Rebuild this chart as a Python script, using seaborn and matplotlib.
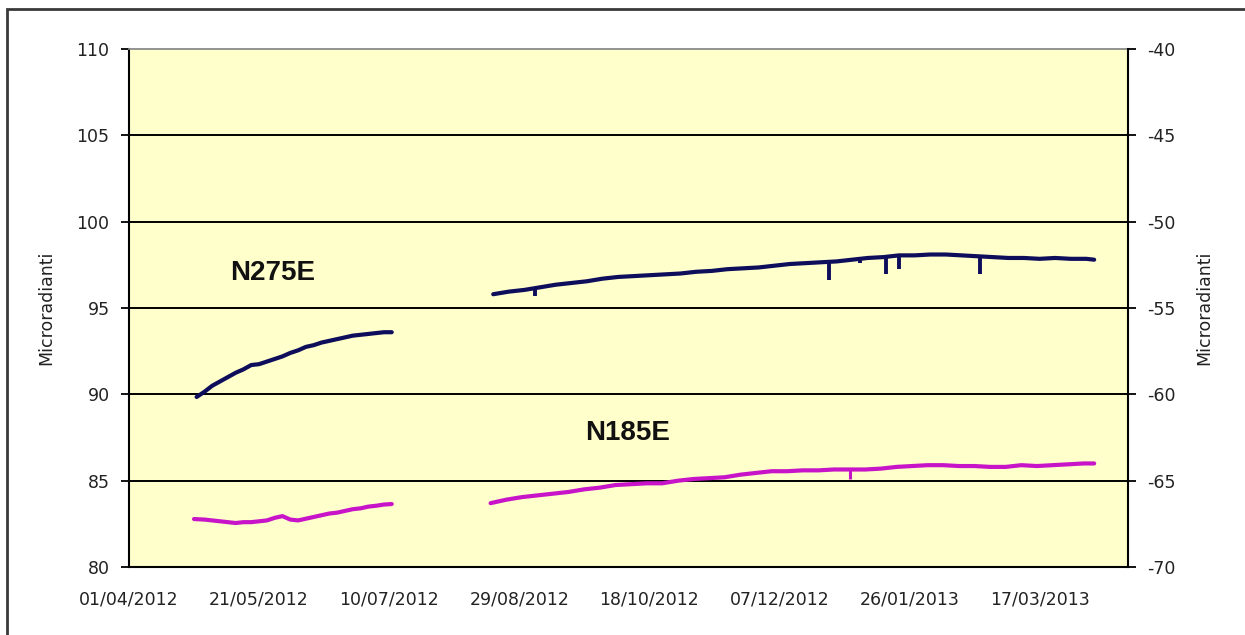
import matplotlib
matplotlib.use("Agg")
import pandas as pd
import seaborn as sns
import matplotlib.pyplot as plt
import matplotlib.dates as mdates
from matplotlib.patches import Rectangle

# ---- N275E (left axis, microradians) ----
n275e_dates_1 = [
    "2012-04-27", "2012-04-30", "2012-05-03", "2012-05-06", "2012-05-09", "2012-05-12",
    "2012-05-15", "2012-05-18", "2012-05-21", "2012-05-24", "2012-05-27", "2012-05-30",
    "2012-06-02", "2012-06-05", "2012-06-08", "2012-06-11", "2012-06-14", "2012-06-17",
    "2012-06-20", "2012-06-23", "2012-06-26", "2012-06-29", "2012-07-02", "2012-07-05",
    "2012-07-08", "2012-07-11",
]
n275e_values_1 = [
    89.85, 90.15, 90.50, 90.75, 91.00, 91.25,
    91.45, 91.70, 91.75, 91.90, 92.05, 92.20,
    92.40, 92.55, 92.75, 92.85, 93.00, 93.10,
    93.20, 93.30, 93.40, 93.45, 93.50, 93.55,
    93.60, 93.60,
]
n275e_dates_2 = [
    "2012-08-19", "2012-08-25", "2012-08-31", "2012-09-06", "2012-09-12", "2012-09-18",
    "2012-09-24", "2012-09-30", "2012-10-06", "2012-10-12", "2012-10-18", "2012-10-24",
    "2012-10-30", "2012-11-05", "2012-11-11", "2012-11-17", "2012-11-23", "2012-11-29",
    "2012-12-05", "2012-12-11", "2012-12-17", "2012-12-23", "2012-12-29", "2013-01-04",
    "2013-01-10", "2013-01-16", "2013-01-22", "2013-01-28", "2013-02-03", "2013-02-09",
    "2013-02-15", "2013-02-21", "2013-02-27", "2013-03-05", "2013-03-11", "2013-03-17",
    "2013-03-23", "2013-03-29", "2013-04-04", "2013-04-07",
]
n275e_values_2 = [
    95.80, 95.95, 96.05, 96.20, 96.35, 96.45,
    96.55, 96.70, 96.80, 96.85, 96.90, 96.95,
    97.00, 97.10, 97.15, 97.25, 97.30, 97.35,
    97.45, 97.55, 97.60, 97.65, 97.70, 97.80,
    97.90, 97.95, 98.05, 98.05, 98.10, 98.10,
    98.05, 98.00, 97.95, 97.90, 97.90, 97.85,
    97.90, 97.85, 97.85, 97.80,
]
# short downward glitches in the N275E record
n275e_spike_dates = ["2012-09-04", "2012-12-26", "2013-01-07", "2013-01-17", "2013-01-22", "2013-02-22"]
n275e_spike_tops = [96.20, 97.65, 97.90, 98.05, 98.05, 98.05]
n275e_spike_lows = [95.70, 96.60, 97.60, 97.00, 97.25, 96.95]

# ---- N185E (right axis, microradians) ----
n185e_dates_1 = [
    "2012-04-26", "2012-04-30", "2012-05-03", "2012-05-06", "2012-05-09", "2012-05-12",
    "2012-05-15", "2012-05-18", "2012-05-21", "2012-05-24", "2012-05-27", "2012-05-30",
    "2012-06-02", "2012-06-05", "2012-06-08", "2012-06-11", "2012-06-14", "2012-06-17",
    "2012-06-20", "2012-06-23", "2012-06-26", "2012-06-29", "2012-07-02", "2012-07-05",
    "2012-07-08", "2012-07-11",
]
n185e_values_1 = [
    -67.22, -67.25, -67.30, -67.35, -67.40, -67.45,
    -67.40, -67.40, -67.35, -67.30, -67.15, -67.05,
    -67.25, -67.30, -67.20, -67.10, -67.00, -66.90,
    -66.85, -66.75, -66.65, -66.60, -66.50, -66.45,
    -66.38, -66.35,
]
n185e_dates_2 = [
    "2012-08-18", "2012-08-24", "2012-08-30", "2012-09-05", "2012-09-11", "2012-09-17",
    "2012-09-23", "2012-09-29", "2012-10-05", "2012-10-11", "2012-10-17", "2012-10-23",
    "2012-10-29", "2012-11-04", "2012-11-10", "2012-11-16", "2012-11-22", "2012-11-28",
    "2012-12-04", "2012-12-10", "2012-12-16", "2012-12-22", "2012-12-28", "2013-01-03",
    "2013-01-09", "2013-01-15", "2013-01-21", "2013-01-27", "2013-02-02", "2013-02-08",
    "2013-02-14", "2013-02-20", "2013-02-26", "2013-03-04", "2013-03-10", "2013-03-16",
    "2013-03-22", "2013-03-28", "2013-04-03", "2013-04-07",
]
n185e_values_2 = [
    -66.30, -66.10, -65.95, -65.85, -65.75, -65.65,
    -65.50, -65.40, -65.25, -65.20, -65.15, -65.15,
    -65.00, -64.90, -64.85, -64.80, -64.65, -64.55,
    -64.45, -64.45, -64.40, -64.40, -64.35, -64.35,
    -64.35, -64.30, -64.20, -64.15, -64.10, -64.10,
    -64.15, -64.15, -64.20, -64.20, -64.10, -64.15,
    -64.10, -64.05, -64.00, -64.00,
]
n185e_spike_dates = ["2013-01-03"]
n185e_spike_tops = [-64.35]
n185e_spike_lows = [-64.90]

# axis settings
x_start, x_end = "2012-04-01", "2013-04-20"
left_ticks = [80, 85, 90, 95, 100, 105, 110]
right_ticks = [-70, -65, -60, -55, -50, -45, -40]

NAVY = "#0d0d5c"
MAGENTA = "#c814c8"
PLOT_BG = "#ffffcc"


def to_frame(dates_1, values_1, dates_2, values_2):
    return pd.DataFrame({
        "date": pd.to_datetime(dates_1 + dates_2),
        "value": values_1 + values_2,
        "segment": [1] * len(dates_1) + [2] * len(dates_2),
    })


n275e = to_frame(n275e_dates_1, n275e_values_1, n275e_dates_2, n275e_values_2)
n185e = to_frame(n185e_dates_1, n185e_values_1, n185e_dates_2, n185e_values_2)

sns.set_style("white")
plt.rcParams["font.family"] = ["DejaVu Sans"]
plt.rcParams["axes.unicode_minus"] = False

fig = plt.figure(figsize=(12.45, 6.35), dpi=100)
fig.subplots_adjust(left=0.1036, right=0.906, bottom=0.107, top=0.9228)
ax = fig.add_subplot(111)
ax.set_facecolor(PLOT_BG)
ax2 = ax.twinx()

# series
sns.lineplot(data=n275e, x="date", y="value", units="segment", estimator=None,
             color=NAVY, lw=3.0, ax=ax, legend=False)
ax.vlines(pd.to_datetime(n275e_spike_dates), n275e_spike_lows, n275e_spike_tops,
          color=NAVY, lw=2.8)

sns.lineplot(data=n185e, x="date", y="value", units="segment", estimator=None,
             color=MAGENTA, lw=3.0, ax=ax2, legend=False)
ax2.vlines(pd.to_datetime(n185e_spike_dates), n185e_spike_lows, n185e_spike_tops,
           color=MAGENTA, lw=2.2)

# x axis: tick every 50 days
ax.set_xlim(pd.Timestamp(x_start), pd.Timestamp(x_end))
ax.set_xticks(pd.date_range(x_start, periods=8, freq="50D"))
ax.xaxis.set_major_formatter(mdates.DateFormatter("%d/%m/%Y"))

ax.set_ylim(left_ticks[0], left_ticks[-1])
ax.set_yticks(left_ticks)
ax2.set_ylim(right_ticks[0], right_ticks[-1])
ax2.set_yticks(right_ticks)

ax.set_xlabel("")
ax.set_ylabel("Microradianti", fontsize=12.5, color="#222222")
ax2.set_ylabel("Microradianti", fontsize=12.5, color="#222222")
ax.yaxis.set_label_coords(-0.074, 0.5)
ax2.yaxis.set_label_coords(1.067, 0.5)

tick_kw = dict(direction="out", length=6, width=1.3, colors="black",
               labelcolor="#222222", labelsize=12.5)
ax.tick_params(axis="y", pad=8, **tick_kw)
ax.tick_params(axis="x", pad=11, **tick_kw)
ax2.tick_params(axis="y", pad=8, **tick_kw)

# horizontal gridlines
ax.yaxis.grid(True, color="black", lw=1.4)
ax.xaxis.grid(False)
ax.get_ygridlines()[-1].set_visible(False)

for a in (ax, ax2):
    for side in ("left", "right", "bottom", "top"):
        a.spines[side].set_visible(False)
ax.spines["left"].set_visible(True)
ax.spines["bottom"].set_visible(True)
ax.spines["top"].set_visible(True)
ax2.spines["right"].set_visible(True)
for sp in (ax.spines["left"], ax.spines["bottom"], ax2.spines["right"]):
    sp.set_color("black")
    sp.set_linewidth(1.5)
ax.spines["top"].set_color("#8a8a8a")
ax.spines["top"].set_linewidth(1.3)

# series names
name_kw = dict(fontsize=20, fontweight="bold", family=["Liberation Sans", "DejaVu Sans"],
               color="#111111", ha="center", va="center")
ax.text(0.144, 0.5676, "N275E", transform=ax.transAxes, **name_kw)
ax.text(0.4995, 0.2587, "N185E", transform=ax.transAxes, **name_kw)

# chart frame
fig.patches.append(Rectangle((7 / 1245, -0.05), 1.2, 0.05 + 1 - 9 / 635,
                             transform=fig.transFigure, fill=False,
                             ec="#3a3a3a", lw=2.0))

fig.savefig("out.png", dpi=100, facecolor="white")
